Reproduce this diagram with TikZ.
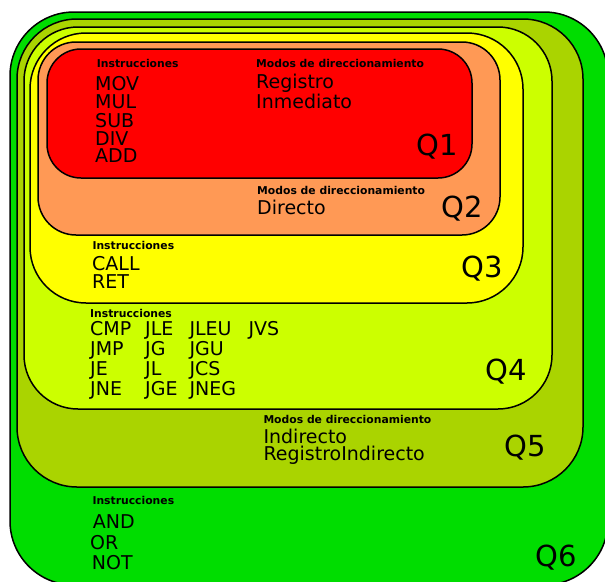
\documentclass[tikz,border=0pt]{standalone}
\usepackage{fontspec}
\setmainfont{DejaVu Sans}
\definecolor{cqsix}{HTML}{00DD00}
\definecolor{cqfive}{HTML}{AAD400}
\definecolor{cqfour}{HTML}{CCFF00}
\definecolor{cqthree}{HTML}{FFFF00}
\definecolor{cqtwo}{HTML}{FF9955}
\definecolor{cqone}{HTML}{FF0000}
\tikzset{
  qbox/.style={draw=black, line width=1.5pt},
  hdr/.style={anchor=base west, inner sep=0pt, font=\bfseries\fontsize{10.8}{12}\selectfont},
  item/.style={anchor=base west, inner sep=0pt, font=\fontsize{19}{20}\selectfont},
  qlab/.style={anchor=base west, inner sep=0pt, font=\fontsize{29}{32}\selectfont},
}
\begin{document}
\begin{tikzpicture}[x=1pt,y=-1pt]
\useasboundingbox (0,0) rectangle (605,581);
\clip (0,0) rectangle (605,581);
\fill[white] (0,0) rectangle (605,581);
% boxes
\draw[qbox, fill=cqsix, rounded corners=64pt] (10,12) rectangle (608,585);
\draw[qbox, fill=cqfive, rounded corners=60pt] (17,19) rectangle (583,487);
\draw[qbox, fill=cqfour, rounded corners=54pt] (24,27) rectangle (552,409);
\draw[qbox, fill=cqthree, rounded corners=56pt] (30,33) rectangle (523,303);
\draw[qbox, fill=cqtwo, rounded corners=38pt] (38,42) rectangle (500,235);
\draw[qbox, fill=cqone, rounded corners=34pt] (47,49) rectangle (472,178);
% Q1
\node[hdr] (q1h) at (96.7,67.7) {Instrucciones};
\node[item] (q1a) at (95,90) {MOV};
\node[item] (q1b) at (95,108.3) {MUL};
\node[item] (q1c) at (95,127) {SUB};
\node[item] (q1d) at (95,145) {DIV};
\node[item] (q1e) at (95,162.7) {ADD};
\node[hdr] (q1m) at (256,67.7) {Modos de direccionamiento};
\node[item] (q1r) at (256,88.3) {Registro};
\node[item] (q1i) at (256,108.3) {Inmediato};
\node[qlab] (q1l) at (416,155.3) {Q1};
% Q2
\node[hdr] (q2m) at (257,194.3) {Modos de direccionamiento};
\node[item] (q2d) at (257,214.3) {Directo};
\node[qlab] (q2l) at (441.7,217) {Q2};
% Q3
\node[hdr] (q3h) at (92.3,249) {Instrucciones};
\node[item] (q3a) at (92,270.7) {CALL};
\node[item] (q3b) at (92,288.3) {RET};
\node[qlab] (q3l) at (461,277.7) {Q3};
% Q4
\node[hdr] (q4h) at (90,317.3) {Instrucciones};
\node[item] (q4a1) at (90,335) {CMP};
\node[item] (q4a2) at (90,355.7) {JMP};
\node[item] (q4a3) at (90,375.7) {JE};
\node[item] (q4a4) at (90,395.7) {JNE};
\node[item] (q4b1) at (145,335) {JLE};
\node[item] (q4b2) at (145,355.7) {JG};
\node[item] (q4b3) at (145,375.7) {JL};
\node[item] (q4b4) at (145,395.7) {JGE};
\node[item] (q4c1) at (189.3,335) {JLEU};
\node[item] (q4c2) at (189.3,355.7) {JGU};
\node[item] (q4c3) at (189.3,375.7) {JCS};
\node[item] (q4c4) at (189.3,395.7) {JNEG};
\node[item] (q4d1) at (248.3,335) {JVS};
\node[qlab] (q4l) at (485,380) {Q4};
% Q5
\node[hdr] (q5m) at (263.3,423.3) {Modos de direccionamiento};
\node[item] (q5a) at (263.3,443.3) {Indirecto};
\node[item] (q5b) at (263.3,460.7) {RegistroIndirecto};
\node[qlab] (q5l) at (504,456.7) {Q5};
% Q6
\node[hdr] (q6h) at (92.3,504.3) {Instrucciones};
\node[item] (q6a) at (92.7,528.3) {AND};
\node[item] (q6b) at (90,549) {OR};
\node[item] (q6c) at (91.7,569.3) {NOT};
\node[qlab] (q6l) at (535,566.7) {Q6};
\end{tikzpicture}
\end{document}
